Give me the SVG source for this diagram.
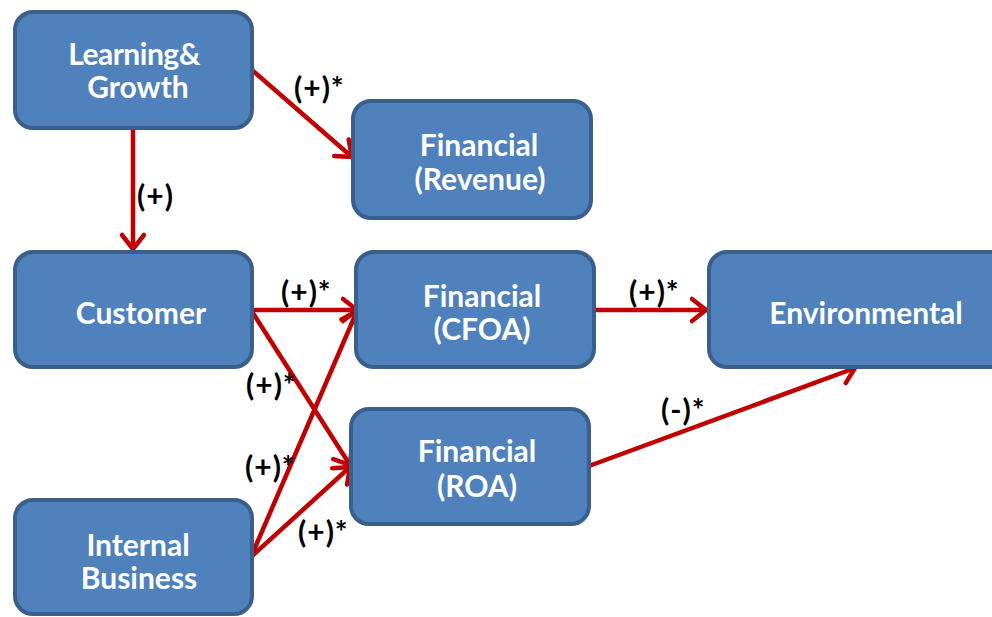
<svg xmlns="http://www.w3.org/2000/svg" width="992" height="617" viewBox="0 0 992 617">
<style>
.box{fill:#4f81bd;stroke:#3b5f8c;stroke-width:4}
.nt{font-family:Lato,"Open Sans","Liberation Sans",sans-serif;font-weight:bold;font-size:30px;fill:#ffffff;text-anchor:middle}
.ln{stroke:#c00000;stroke-width:4.5;fill:none;marker-end:url(#ah)}
.lb{font-family:Lato,"Open Sans","Liberation Sans",sans-serif;font-weight:bold;font-size:30px;fill:#000000;letter-spacing:1px}
</style>
<defs>
<marker id="ah" markerUnits="userSpaceOnUse" markerWidth="34" markerHeight="34" refX="22" refY="17" orient="auto">
<path d="M8,6 L22,17 L8,28" fill="none" stroke="#c00000" stroke-width="4.5" stroke-linecap="round" stroke-linejoin="round"/>
</marker>
</defs>
<rect width="992" height="617" fill="#ffffff"/>
<g id="connectors">
<line class="ln" x1="252" y1="70" x2="352" y2="157"/>
<line class="ln" x1="133" y1="128" x2="133" y2="249"/>
<line class="ln" x1="251" y1="310" x2="357" y2="310"/>
<line class="ln" x1="251" y1="310" x2="350" y2="465"/>
<line class="ln" x1="251" y1="557" x2="357" y2="311"/>
<line class="ln" x1="251" y1="557" x2="350" y2="467"/>
<line class="ln" x1="596" y1="310" x2="706" y2="310"/>
<line class="ln" x1="589" y1="466" x2="855" y2="368"/>
</g>
<g id="labels">
<text class="lb" x="294" y="99">(+)*</text>
<text class="lb" x="137" y="207">(+)</text>
<text class="lb" x="281" y="303">(+)*</text>
<text class="lb" x="246" y="396">(+)*</text>
<text class="lb" x="245" y="478">(+)*</text>
<text class="lb" x="298" y="543">(+)*</text>
<text class="lb" x="629" y="303">(+)*</text>
<text class="lb" x="661" y="421">(-)*</text>
</g>
<g id="learning">
<rect class="box" x="15" y="12" width="237" height="116" rx="18"/>
<text class="nt" x="134" y="65" letter-spacing="-0.5">Learning&amp;</text>
<text class="nt" x="138" y="98">Growth</text>
</g>
<g id="revenue">
<rect class="box" x="353" y="101" width="238" height="117" rx="18"/>
<text class="nt" x="479" y="156">Financial</text>
<text class="nt" x="480" y="190">(Revenue)</text>
</g>
<g id="customer">
<rect class="box" x="15" y="252" width="237" height="115" rx="18"/>
<text class="nt" x="141" y="324">Customer</text>
</g>
<g id="cfoa">
<rect class="box" x="356" y="252" width="238" height="115" rx="18"/>
<text class="nt" x="482" y="307">Financial</text>
<text class="nt" x="482" y="340">(CFOA)</text>
</g>
<g id="roa">
<rect class="box" x="351" y="409" width="238" height="115" rx="18"/>
<text class="nt" x="477" y="462">Financial</text>
<text class="nt" x="477" y="497">(ROA)</text>
</g>
<g id="environmental">
<rect class="box" x="709" y="252" width="300" height="115" rx="18"/>
<text class="nt" x="866" y="324">Environmental</text>
</g>
<g id="internal">
<rect class="box" x="15" y="500" width="237" height="114" rx="18"/>
<text class="nt" x="138" y="556">Internal</text>
<text class="nt" x="139" y="589">Business</text>
</g>
</svg>
